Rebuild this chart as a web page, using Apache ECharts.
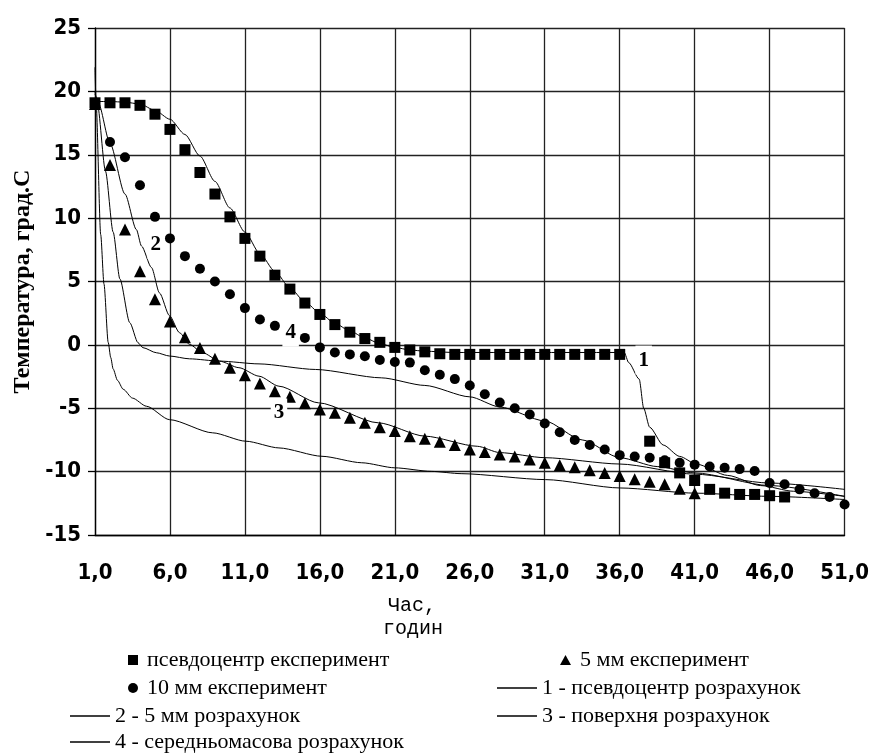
<!DOCTYPE html>
<html>
<head>
<meta charset="utf-8">
<script src="https://cdn.jsdelivr.net/npm/echarts@6/dist/echarts.min.js"></script>
<style>
  html, body { margin: 0; padding: 0; background: #ffffff; }
  #chart { width: 872px; height: 755px; }
</style>
</head>
<body>
<div id="chart"></div>
<script>
// Measured points: pseudo-centre, 10 mm and 5 mm (hours, °C)
const squareHours = [1,2,3,4,5,6,7,8,9,10,11,12,13,14,15,16,17,18,19,20,21,22,23,24,25,26,27,28,29,30,31,32,33,34,35,36,38,39,40,41,42,43,44,45,46,47];
const squareTemps = [19.1,19.1,19.1,18.9,18.2,17.0,15.4,13.6,11.9,10.1,8.4,7.0,5.5,4.4,3.3,2.4,1.6,1.0,0.5,0.2,-0.2,-0.4,-0.55,-0.7,-0.75,-0.75,-0.75,-0.75,-0.75,-0.75,-0.75,-0.75,-0.75,-0.75,-0.75,-0.75,-7.6,-9.3,-10.1,-10.7,-11.4,-11.7,-11.8,-11.8,-11.9,-12.0];

const circleHours = [1,2,3,4,5,6,7,8,9,10,11,12,13,15,16,17,18,19,20,21,22,23,24,25,26,27,28,29,30,31,32,33,34,35,36,37,38,39,40,41,42,43,44,45,46,47,48,49,50,51];
const circleTemps = [19.0,16.0,14.8,12.6,10.1,8.4,7.0,6.0,5.0,4.0,2.9,2.0,1.5,0.55,-0.2,-0.6,-0.75,-0.9,-1.2,-1.35,-1.4,-2.0,-2.35,-2.7,-3.2,-3.9,-4.55,-5.0,-5.5,-6.2,-6.9,-7.5,-7.9,-8.25,-8.7,-8.8,-8.9,-9.1,-9.3,-9.45,-9.6,-9.7,-9.8,-9.95,-10.9,-11.0,-11.4,-11.7,-12.0,-12.6];

const triangleHours = [1,2,3,4,5,6,7,8,9,10,11,12,13,14,15,16,17,18,19,20,21,22,23,24,25,26,27,28,29,30,31,32,33,34,35,36,37,38,39,40,41];
const triangleTemps = [19.0,14.2,9.1,5.8,3.6,1.85,0.6,-0.25,-1.1,-1.8,-2.4,-3.05,-3.65,-4.1,-4.6,-5.1,-5.35,-5.75,-6.15,-6.5,-6.8,-7.2,-7.4,-7.65,-7.9,-8.25,-8.45,-8.65,-8.8,-9.05,-9.3,-9.5,-9.65,-9.9,-10.1,-10.35,-10.6,-10.8,-11.0,-11.35,-11.7];

// Calculated curves
const calc1Hours = [1,2,3,4,5,6,7,8,9,10,11,12,13,14,15,16,17,18,19,20,21,22,23,25,36.3,36.6,37.3,37.6,38.0,38.9,40.0,41.1,43.2,45.4,47.6,51];
const calc1Temps = [19.2,19.2,19.15,19.0,18.5,17.8,16.6,14.9,12.9,10.8,8.9,7.2,5.8,4.5,3.4,2.5,1.7,1.1,0.55,0.1,-0.2,-0.4,-0.5,-0.6,-0.6,-1.4,-2.7,-5.0,-6.5,-7.9,-8.8,-9.4,-10.3,-11.1,-11.55,-11.95];

const calc2Hours = [1,1.22,2,3,3.76,4.1,4.77,5.3,5.97,6.64,7.3,8.18,9.3,10.6,11.94,13.27,15.9,19.9,23,26.5,28,31,36,41,46,51];
const calc2Temps = [19.8,19.1,15.9,11.9,9.1,7.8,6.1,4.1,2.3,0.96,0.04,-0.62,-1.28,-1.8,-2.47,-3.26,-4.57,-6.15,-7.2,-8.0,-8.5,-8.9,-9.4,-10.2,-10.9,-11.4];

const calc3Hours = [1,1.07,1.38,1.6,1.88,2.05,2.21,2.5,2.88,3.5,4.43,5.97,8.85,11.06,13.27,16.14,18.79,21,23.43,25.42,31.06,36.03,41.1,45.98,51];
const calc3Temps = [21.9,19.2,8.7,4.8,0.2,-1.0,-1.9,-2.8,-3.5,-4.2,-4.84,-5.9,-6.94,-7.6,-8.13,-8.79,-9.3,-9.7,-9.98,-10.16,-10.63,-11.29,-11.7,-11.95,-12.2];

const calc4Hours = [1,1.15,1.7,2.21,2.66,3.32,3.87,4.2,5.09,5.97,7.3,9.3,11.94,15.7,20.1,23,26,28,31,33.5,36,38.5,41,46,51];
const calc4Temps = [20.0,19.1,13.7,8.9,5.2,1.75,0.17,-0.22,-0.62,-0.88,-1.1,-1.28,-1.5,-1.94,-2.6,-3.2,-4.1,-4.9,-6.0,-7.5,-8.9,-9.6,-10.1,-11.1,-11.95];

// Curve number tags
const tagTexts = ['1','2','3','4'];
const tagHours = [37.6,5.05,13.27,14.05];
const tagTemps = [-1.2,7.9,-5.37,1.0];

const zip = (xs, ys) => xs.map((x, i) => [x, ys[i]]);

const names = {
  sq: 'псевдоцентр експеримент',
  tri: '5 мм експеримент',
  circ: '10 мм експеримент',
  c1: '1 - псевдоцентр розрахунок',
  c2: '2 - 5 мм розрахунок',
  c3: '3 - поверхня розрахунок',
  c4: '4 - середньомасова розрахунок'
};

const serif = '"Liberation Serif", "DejaVu Serif", serif';
const narrow = '"Liberation Sans Narrow", "DejaVu Sans Condensed", sans-serif';
const mono = '"Liberation Mono", "DejaVu Sans Mono", monospace';

function calcLine(name, xs, ys) {
  return {
    name: name, type: 'line', data: zip(xs, ys),
    showSymbol: false, symbol: 'none', smooth: 0.25, smoothMonotone: 'x',
    lineStyle: { color: '#000', width: 1 }, itemStyle: { color: '#000' },
    z: 2, silent: true
  };
}

function markerSeries(name, symbol, size, xs, ys) {
  return {
    name: name, type: 'scatter', symbol: symbol, symbolSize: size,
    data: zip(xs, ys), itemStyle: { color: '#000', opacity: 1 }, z: 3
  };
}

function legendItem(name, icon, left, top, w, h, textShift) {
  return {
    data: [{ name: name, icon: icon }], left: left, top: top, padding: 0,
    itemWidth: w, itemHeight: h, selectedMode: false,
    itemStyle: { color: '#000', opacity: 1 },
    textStyle: { fontFamily: serif, fontSize: 22, color: '#000', padding: [0, 0, 0, textShift] }
  };
}

const chart = echarts.init(document.getElementById('chart'));
chart.setOption({
  animation: false,
  backgroundColor: '#ffffff',
  grid: { left: 95, right: 23, top: 28, bottom: 220 },
  xAxis: {
    type: 'value', min: 1, max: 51, interval: 5,
    axisLine: { show: true, onZero: false, lineStyle: { color: '#000', width: 1.3 } },
    axisTick: { show: false },
    splitLine: { show: true, lineStyle: { color: '#222', width: 1.3 } },
    axisLabel: {
      margin: 27, color: '#000', fontFamily: narrow, fontWeight: 'bold', fontSize: 22,
      formatter: v => v.toFixed(1).replace('.', ',')
    }
  },
  yAxis: {
    type: 'value', min: -15, max: 25, interval: 5,
    name: 'Температура, град.С', nameLocation: 'middle', nameGap: 60, nameRotate: 90,
    nameTextStyle: { fontFamily: serif, fontWeight: 'bold', fontSize: 24, color: '#000' },
    axisLine: { show: true, onZero: false, lineStyle: { color: '#000', width: 1.3 } },
    axisTick: { show: true, inside: false, length: 7, lineStyle: { color: '#000', width: 1.3 } },
    splitLine: { show: true, lineStyle: { color: '#222', width: 1.3 } },
    axisLabel: { margin: 14, color: '#000', fontFamily: narrow, fontWeight: 'bold', fontSize: 22 }
  },
  legend: [
    legendItem(names.sq, 'rect', 128, 649, 10, 10, 4),
    legendItem(names.circ, 'circle', 128, 677, 10, 10, 4),
    legendItem(names.c2, 'rect', 70, 705, 40, 1.5, 0),
    legendItem(names.c4, 'rect', 70, 731, 40, 1.5, 0),
    legendItem(names.tri, 'triangle', 560, 649, 11, 10, 4),
    legendItem(names.c1, 'rect', 497, 677, 40, 1.5, 0),
    legendItem(names.c3, 'rect', 497, 705, 40, 1.5, 0)
  ],
  graphic: [
    { type: 'text', left: 388, top: 596, style: { text: 'Час,', fontFamily: mono, fontSize: 20, fill: '#000' } },
    { type: 'text', left: 383, top: 619, style: { text: 'годин', fontFamily: mono, fontSize: 20, fill: '#000' } }
  ],
  series: [
    calcLine(names.c1, calc1Hours, calc1Temps),
    calcLine(names.c2, calc2Hours, calc2Temps),
    calcLine(names.c3, calc3Hours, calc3Temps),
    calcLine(names.c4, calc4Hours, calc4Temps),
    markerSeries(names.sq, 'rect', 11, squareHours, squareTemps),
    markerSeries(names.circ, 'circle', 10, circleHours, circleTemps),
    markerSeries(names.tri, 'triangle', 12, triangleHours, triangleTemps),
    {
      name: 'tags', type: 'scatter', symbol: 'rect', symbolSize: 2, z: 5, silent: true,
      itemStyle: { color: 'rgba(255,255,255,0)', opacity: 1 },
      data: tagTexts.map((t, i) => ({ name: t, value: [tagHours[i], tagTemps[i]] })),
      label: {
        show: true, position: 'inside', formatter: '{b}', opacity: 1,
        fontFamily: serif, fontWeight: 'bold', fontSize: 21, color: '#000',
        backgroundColor: '#ffffff', padding: [4, 3]
      },
      labelLayout: { hideOverlap: false }
    }
  ]
});
</script>
</body>
</html>
